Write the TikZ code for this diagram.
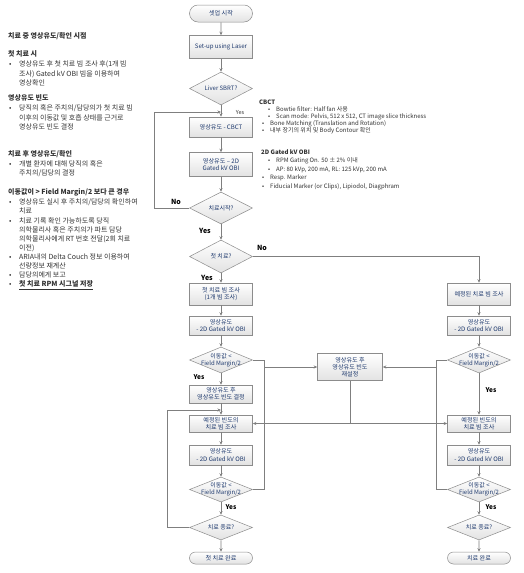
\documentclass[tikz,border=0pt]{standalone}
\usepackage{fontspec}
\setmainfont{Noto Sans CJK KR}
\usetikzlibrary{shapes.geometric,shapes.misc,arrows.meta}
\definecolor{navy}{HTML}{1F3A6E}
\definecolor{lineg}{HTML}{7F7F7F}
\definecolor{bord}{HTML}{8C8C8C}
\definecolor{boxg}{HTML}{E2E2E2}
\definecolor{txt}{HTML}{333333}
\begin{document}
\begin{tikzpicture}[x=1pt,y=-1pt,
  conn/.style={draw=lineg, line width=0.6pt},
  arr/.style={conn, -{Stealth[length=3.5pt,width=3pt]}},
  box/.style={draw=bord, line width=0.5pt, top color=white, bottom color=boxg, minimum width=63pt, minimum height=#1, inner sep=0.5pt, align=center, font=\fontsize{6.1}{7.1}\selectfont, text=navy},
  box/.default=20pt,
  dia/.style={diamond, draw=bord, line width=0.5pt, top color=white, bottom color=boxg, minimum width=63pt, minimum height=#1, inner sep=0pt},
  dia/.default=30pt,
  dtext/.style={align=center, font=\fontsize{6}{7}\selectfont, text=navy, inner sep=0pt},
  term/.style={rounded rectangle, draw=bord, line width=0.5pt, top color=white, bottom color=boxg, minimum width=63pt, minimum height=#1, inner sep=0pt, font=\fontsize{6.1}{7}\selectfont, text=navy},
  term/.default=14pt,
  yn/.style={font=\fontsize{6.5}{7}\selectfont\bfseries, text=black, inner sep=0pt},
  ys/.style={font=\fontsize{5.5}{6}\selectfont, text=txt, inner sep=0pt},
  lt/.style={anchor=west, inner sep=0pt, font=\fontsize{7}{8}\selectfont, text=txt, text height=5.4pt, text depth=1.6pt},
  lh/.style={lt, font=\fontsize{7}{8}\selectfont\bfseries},
  nt/.style={anchor=west, inner sep=0pt, font=\fontsize{6}{7}\selectfont, text=txt, text height=4.6pt, text depth=1.3pt},
  nh/.style={nt, font=\fontsize{6}{7}\selectfont\bfseries},
]
\useasboundingbox[fill=white] (0,0) rectangle (523,573);

% ---------------- left notes
\node[lh] (t0) at (8,37) {치료 중 영상유도/확인 시점};
\node[lh] (t1) at (8,55) {첫 치료 시};
\node[lt] (t1b) at (9,65) {•};
\node[lt] (t1a) at (19,65) {영상유도 후 첫 치료 빔 조사 후(1개 빔};
\node[lt] (t1c) at (19,74.5) {조사) Gated kV OBI 빔을 이용하여};
\node[lt] (t1d) at (19,84) {영상확인};
\node[lh] (t2) at (8,99) {영상유도 빈도};
\node[lt] (t2b) at (9,109) {•};
\node[lt] (t2a) at (19,109) {당직의 혹은 주치의/담당의가 첫 치료 빔};
\node[lt] (t2c) at (19,118.5) {이후의 이동값 및 호흡 상태를 근거로};
\node[lt] (t2d) at (19,128) {영상유도 빈도 결정};
\node[lh] (t3) at (8,155) {치료 후 영상유도/확인};
\node[lt] (t3b) at (9,165) {•};
\node[lt] (t3a) at (19,165) {개별 환자에 대해 당직의 혹은};
\node[lt] (t3c) at (19,174) {주치의/담당의 결정};
\node[lh] (t4) at (8,193) {이동값이 > Field Margin/2 보다 큰 경우};
\node[lt] (t4b1) at (9,203) {•};
\node[lt] (t4a1) at (19,203) {영상유도 실시 후 주치의/담당의 확인하여};
\node[lt] (t4a2) at (19,212) {치료};
\node[lt] (t4b2) at (9,222) {•};
\node[lt] (t4c1) at (19,222) {치료 기록 확인 가능하도록 당직};
\node[lt] (t4c2) at (19,231) {의학물리사 혹은 주치의가 파트 담당};
\node[lt] (t4c3) at (19,240) {의학물리사에게 RT 번호 전달(2회 치료};
\node[lt] (t4c4) at (19,249) {이전)};
\node[lt] (t4b3) at (9,258) {•};
\node[lt] (t4d1) at (19,258) {ARIA내의 Delta Couch 정보 이용하여};
\node[lt] (t4d2) at (19,267) {선량정보 재계산};
\node[lt] (t4b4) at (9,276) {•};
\node[lt] (t4e1) at (19,276) {담당의에게 보고};
\node[lt] (t4b5) at (9,285) {•};
\node[lh] (t4f1) at (19,285) {\underline{첫 치료 RPM 시그널 저장}};

% ---------------- right notes
\node[nh] (c0) at (259,103) {CBCT};
\node[nt] (c1b) at (268,110) {•};
\node[nt] (c1) at (276,110) {Bowtie filter: Half fan 사용};
\node[nt] (c2b) at (268,117) {•};
\node[nt] (c2) at (276,117) {Scan mode: Pelvis, 512 x 512, CT image slice thickness};
\node[nt] (c3b) at (262,124) {•};
\node[nt] (c3) at (270,124) {Bone Matching (Translation and Rotation)};
\node[nt] (c4b) at (262,131) {•};
\node[nt] (c4) at (270,131) {내부 장기의 위치 및 Body Contour 확인};

\node[nh] (g0) at (261,153) {2D Gated kV OBI};
\node[nt] (g1b) at (268,161) {•};
\node[nt] (g1) at (276,161) {RPM Gating On. 50 ± 2\% 이내};
\node[nt] (g2b) at (268,169.5) {•};
\node[nt] (g2) at (276,169.5) {AP: 80 kVp, 200 mA, RL: 125 kVp, 200 mA};
\node[nt] (g3b) at (262,178) {•};
\node[nt] (g3) at (270,178) {Resp. Marker};
\node[nt] (g4b) at (262,186.5) {•};
\node[nt] (g4) at (270,186.5) {Fiducial Marker (or Clips), Lipiodol, Diagphram};

% ---------------- main column
\node[term=17pt] (start) at (221,13.5) {셋업 시작};
\node[box=23pt] (setup) at (221,47) {Set-up using Laser};
\node[dia=33pt] (liver) at (221,88.5) {};
\node[dtext] (liverT) at (liver) {Liver SBRT?};
\node[box=20pt] (cbct) at (221,127) {영상유도 - CBCT};
\node[box=24pt] (obi1) at (221,164.5) {영상유도 – 2D\\Gated kV OBI};
\node[dia=32pt] (go) at (221,208) {};
\node[dtext] (goT) at (go) {치료시작?};
\node[dia=33pt] (first) at (221,256.5) {};
\node[dtext] (firstT) at (first) {첫 치료?};
\node[box=22pt] (beam1) at (221,294) {첫 치료 빔 조사\\(1개 빔 조사)};
\node[box=19pt] (obi2) at (221,325.5) {영상유도\\- 2D Gated kV OBI};
\node[dia=26pt] (mv1) at (221,360) {};
\node[dtext] (mv1T) at (mv1) {이동값 <\\Field Margin/2};
\node[box=18pt] (freq) at (221,394) {영상유도 후\\영상유도 빈도 결정};
\node[box=17pt] (sch1) at (221,423.5) {예정된 빈도의\\치료 빔 조사};
\node[box=20pt] (obi3) at (221,455) {영상유도\\- 2D Gated kV OBI};
\node[dia=25pt] (mv2) at (221,489.5) {};
\node[dtext] (mv2T) at (mv2) {이동값 <\\Field Margin/2};
\node[dia=25pt] (fin1) at (221,527.5) {};
\node[dtext] (fin1T) at (fin1) {치료 종료?};
\node[term=12pt] (done1) at (221,558) {첫 치료 완료};

% ---------------- right column
\node[box=22pt] (sch0) at (479,294) {예정된 치료 빔 조사};
\node[box=19pt] (obiR1) at (479,325.5) {영상유도\\- 2D Gated kV OBI};
\node[dia=26pt] (mvR1) at (479,360) {};
\node[dtext] (mvR1T) at (mvR1) {이동값 <\\Field Margin/2};
\node[box=17pt] (schR) at (479,423.5) {예정된 빈도의\\치료 빔 조사};
\node[box=20pt] (obiR2) at (479,455) {영상유도\\- 2D Gated kV OBI};
\node[dia=25pt] (mvR2) at (479,489.5) {};
\node[dtext] (mvR2T) at (mvR2) {이동값 <\\Field Margin/2};
\node[dia=25pt] (finR) at (479,527.5) {};
\node[dtext] (finRT) at (finR) {치료 종료?};
\node[term=12pt] (doneR) at (479,558) {치료 완료};

% ---------------- middle
\node[box=27pt, minimum width=65pt] (reset) at (350,367) {영상유도 후\\영상유도 빈도\\재설정};

% ---------------- connectors
\coordinate (j1) at (221,112);
\coordinate (j2) at (221,410);
\draw[arr] (start) -- (setup);
\draw[arr] (setup) -- (liver);
\draw[arr] (liver) -- (cbct);
\draw[arr] (go.west) -- ++(-35,0) |- (j1);
\draw[arr] (cbct) -- (obi1);
\draw[arr] (obi1) -- (go);
\draw[arr] (go) -- (first);
\draw[arr] (first) -- (beam1);
\draw[arr] (first.east) -| (sch0.north);
\draw[arr] (beam1) -- (obi2);
\draw[arr] (obi2) -- (mv1);
\draw[arr] (mv1) -- (freq);
\draw[arr] (freq) -- (sch1);
\draw[arr] (sch1) -- (obi3);
\draw[arr] (obi3) -- (mv2);
\draw[arr] (mv2) -- (fin1);
\draw[arr] (fin1) -- (done1);
\draw[arr] (fin1.west) -- ++(-22,0) |- (j2);

\draw[arr] (sch0) -- (obiR1);
\draw[arr] (obiR1) -- (mvR1);
\draw[arr] (mvR1) -- (schR);
\draw[arr] (schR) -- (obiR2);
\draw[arr] (obiR2) -- (mvR2);
\draw[arr] (mvR2) -- (finR);
\draw[arr] (finR) -- (doneR);

\draw[conn] (mv1.east) -- ++(12,0) coordinate (a1) |- (mv2.east);
\draw[arr] (a1 |- reset.west) -- (reset.west);
\draw[conn] (mvR1.west) -- ++(-11,0) coordinate (a2) |- (mvR2.west);
\draw[arr] (a2 |- reset.east) -- (reset.east);
\coordinate (j3) at (reset.south |- sch1.east);
\draw[conn] (reset.south) -- (j3);
\draw[arr] (j3) -- (sch1.east);
\draw[arr] (j3) -- (schR.west);

% ---------------- labels
\node[ys] (y1) at (240,113) {Yes};
\node[yn, font=\fontsize{7}{8}\selectfont\bfseries] (no1) at (176,202) {No};
\node[yn, font=\fontsize{7}{8}\selectfont\bfseries] (y2) at (205,231) {Yes};
\node[yn, font=\fontsize{7}{8}\selectfont\bfseries] (no2) at (262,248) {No};
\node[yn, font=\fontsize{7}{8}\selectfont\bfseries] (y3) at (207,278) {Yes};
\node[yn] (y4) at (199,377) {Yes};
\node[yn] (y5) at (231,507) {Yes};
\node[yn] (y6) at (491,390) {Yes};
\node[yn] (y7) at (491,507) {Yes};
\end{tikzpicture}
\end{document}
